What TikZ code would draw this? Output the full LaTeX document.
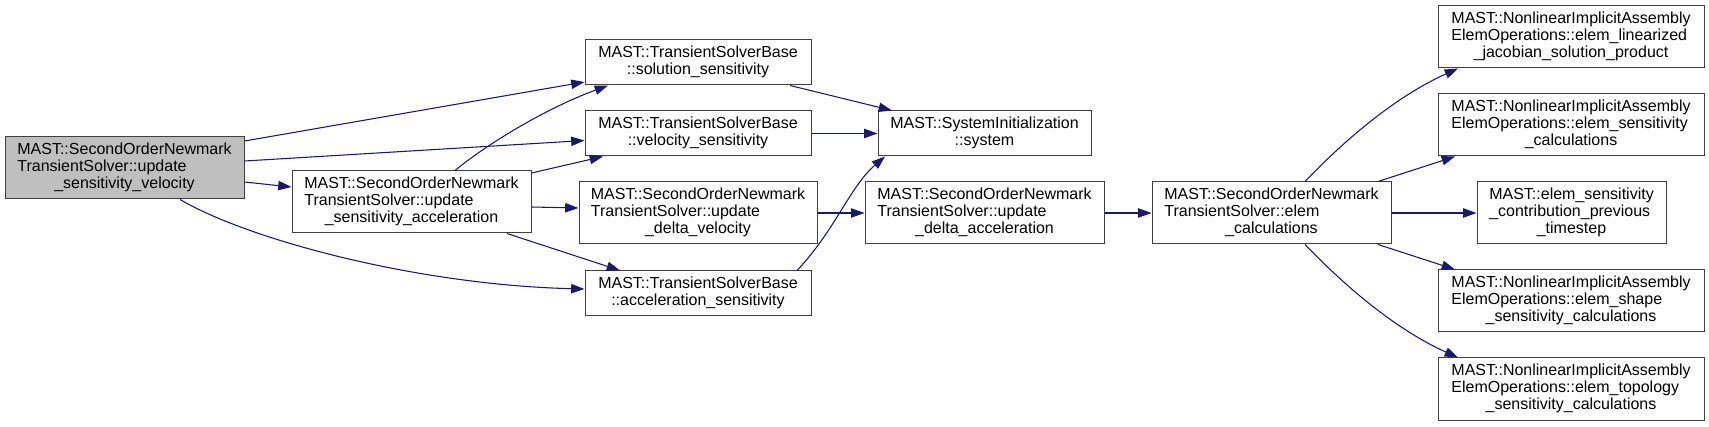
\documentclass[tikz,border=0pt]{standalone}
\usepackage{fontspec}
\setmainfont{Liberation Sans}
\usetikzlibrary{arrows.meta, calc}

\definecolor{edgeblue}{HTML}{191970}
\definecolor{rootgray}{HTML}{BFBFBF}
% labels: lines left, last line centred
\newcommand{\fnthree}[3]{\begin{tabular}{@{}l@{}}#1\\#2\\\multicolumn{1}{@{}c@{}}{#3}\end{tabular}}
\newcommand{\fntwo}[2]{\begin{tabular}{@{}l@{}}#1\\\multicolumn{1}{@{}c@{}}{#2}\end{tabular}}

\begin{document}
\begin{tikzpicture}[x=0.75pt, y=-0.75pt,
    fn/.style={draw=black!75, line width=0.75pt, fill=white, inner sep=0pt,
        font=\fontsize{12}{12.75}\selectfont},
    bw/.style={minimum width=#1*0.75pt},
    tall/.style={minimum height=46.5pt},
    short/.style={minimum height=33.75pt},
    call/.style={-{Triangle[length=10pt,width=7pt,fill=edgeblue]}, draw=edgeblue, line width=0.8pt}]
    \useasboundingbox (0,0) rectangle (1709,427);
    % caller
    \node[fn, tall, bw=239, fill=rootgray] (root) at (124.5,168) {\fnthree{MAST::SecondOrderNewmark}{TransientSolver::update}{\_sensitivity\_velocity}};
    \node[fn, tall, bw=239] (usa) at (411.5,202) {\fnthree{MAST::SecondOrderNewmark}{TransientSolver::update}{\_sensitivity\_acceleration}};
    % solver base
    \node[fn, short, bw=226] (sol) at (698,62.5) {\fntwo{MAST::TransientSolverBase}{::solution\_sensitivity}};
    \node[fn, short, bw=226] (vel) at (698,133.5) {\fntwo{MAST::TransientSolverBase}{::velocity\_sensitivity}};
    \node[fn, tall, bw=238] (udv) at (698,213) {\fnthree{MAST::SecondOrderNewmark}{TransientSolver::update}{\_delta\_velocity}};
    \node[fn, short, bw=226] (acc) at (698,293.5) {\fntwo{MAST::TransientSolverBase}{::acceleration\_sensitivity}};
    \node[fn, short, bw=213] (sys) at (984.5,133.5) {\fntwo{MAST::SystemInitialization}{::system}};
    \node[fn, tall, bw=239] (uda) at (984.5,213) {\fnthree{MAST::SecondOrderNewmark}{TransientSolver::update}{\_delta\_acceleration}};
    \node[fn, tall, bw=239] (elem) at (1271.5,213) {\fnthree{MAST::SecondOrderNewmark}{TransientSolver::elem}{\_calculations}};
    % element operations
    \node[fn, tall, bw=266] (lin) at (1571,37) {\fnthree{MAST::NonlinearImplicitAssembly}{ElemOperations::elem\_linearized}{\_jacobian\_solution\_product}};
    \node[fn, tall, bw=266] (sens) at (1571,125) {\fnthree{MAST::NonlinearImplicitAssembly}{ElemOperations::elem\_sensitivity}{\_calculations}};
    \node[fn, tall, bw=189] (prev) at (1571.5,213) {\fnthree{MAST::elem\_sensitivity}{\_contribution\_previous}{\_timestep}};
    \node[fn, tall, bw=266] (shape) at (1571,301) {\fnthree{MAST::NonlinearImplicitAssembly}{ElemOperations::elem\_shape}{\_sensitivity\_calculations}};
    \node[fn, tall, bw=266] (topo) at (1571,389) {\fnthree{MAST::NonlinearImplicitAssembly}{ElemOperations::elem\_topology}{\_sensitivity\_calculations}};
    % calls from root
    \draw[call] ($(root.east)+(0,-27)$) -- ($(sol.west)+(0,19.5)$);
    \draw[call] ($(root.east)+(0,-7)$) -- ($(vel.west)+(0,7)$);
    \draw[call] ($(root.east)+(0,14)$) -- ($(usa.west)+(0,-15)$);
    \draw[call] ($(root.south)+(55.5,0)$) .. controls +(70,41) and +(-165,-4) .. ($(acc.west)+(0,-4.5)$);
    % calls from update_sensitivity_acceleration
    \draw[call] ($(usa.north)+(43.5,0)$) .. controls +(25,-21) and +(-68,25) .. ($(sol.south)+(-90,0)$);
    \draw[call] ($(usa.east)+(0,-29)$) -- ($(vel.south)+(-95,0)$);
    \draw[call] ($(usa.east)+(0,5)$) -- ($(udv.west)+(0,-5)$);
    \draw[call] ($(usa.south)+(95.5,0)$) -- ($(acc.north)+(-78,0)$);
    % to system
    \draw[call] ($(sol.south)+(92,0)$) -- ($(sys.north)+(-92.5,0)$);
    \draw[call] (vel.east) -- (sys.west);
    \draw[call] ($(acc.north)+(99,0)$) .. controls +(38,-40) and +(-35,30) .. ($(sys.south)+(-99.5,0)$);
    \draw[call] (udv.east) -- (uda.west);
    \draw[call] (uda.east) -- (elem.west);
    % elem_calculations
    \draw[call] ($(elem.north)+(33.5,0)$) .. controls +(45,-47) and +(-58,26) .. ($(lin.south)+(-113,0)$);
    \draw[call] ($(elem.north)+(106.5,0)$) -- ($(sens.south)+(-116,0)$);
    \draw[call] (elem.east) -- (prev.west);
    \draw[call] ($(elem.south)+(106.5,0)$) -- ($(shape.north)+(-116,0)$);
    \draw[call] ($(elem.south)+(33.5,0)$) .. controls +(45,47) and +(-58,-26) .. ($(topo.north)+(-113,0)$);
\end{tikzpicture}
\end{document}
